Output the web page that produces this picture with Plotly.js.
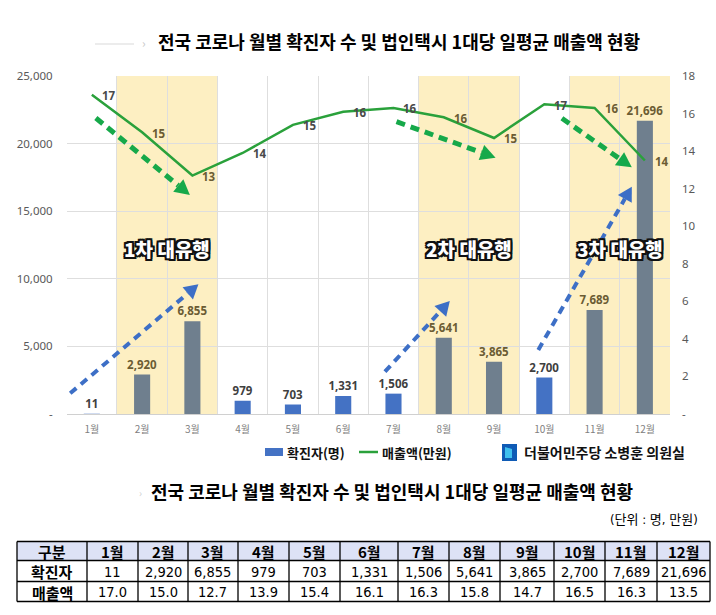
<!DOCTYPE html>
<html>
<head>
<meta charset="utf-8">
<script src="https://cdn.plot.ly/plotly-3.0.1.min.js"></script>
<style>
  html, body { margin: 0; padding: 0; background: #fff; }
  #chart { width: 716px; height: 615px; }
</style>
</head>
<body>
<div id="chart"></div>
<script>
// Monthly COVID-19 confirmed cases and average daily revenue per corporate taxi
const months = ['1월','2월','3월','4월','5월','6월','7월','8월','9월','10월','11월','12월'];
const cases = [11, 2920, 6855, 979, 703, 1331, 1506, 5641, 3865, 2700, 7689, 21696];
const revenue = [17.0, 15.0, 12.7, 13.9, 15.4, 16.1, 16.3, 15.8, 14.7, 16.5, 16.3, 13.5];
// month indices of the three outbreak waves
const waves = [[1, 2], [7, 8], [10, 11]];
const waveNames = ['1차 대유행', '2차 대유행', '3차 대유행'];
// trend arrows: [start month index, start value] -> [end month index, end value] (left axis units)
const revenueArrows = [[[0.08, 21893], [1.95, 16198]], [[6.06, 21620], [8.03, 18957]], [[9.35, 21871], [10.74, 18247]]];
const caseArrows = [[[-0.43, 1531], [2.12, 9593]], [[5.83, 3129], [7.12, 8358]], [[8.88, 4734], [10.74, 16812]]];

const leftTicks = [0, 5000, 10000, 15000, 20000, 25000];
const rightTicks = [0, 2, 4, 6, 8, 10, 12, 14, 16, 18];
const rowLabels = ['확진자', '매출액'];

const W = 716, H = 615;
const PL = 66.7, PR = 670, PT = 76, PB = 414;
const Y1MAX = 25000, Y2MAX = 18;

const BLUE = '#4472c4', SLATE = '#6f7f8e', GREEN = '#2aa13b';
const KR = '"Noto Sans CJK KR", "Noto Sans", sans-serif';
const NUM = '"Noto Sans", "Noto Sans CJK KR", sans-serif';
const NARROW = '"Liberation Sans Narrow", "DejaVu Sans Condensed", "Roboto Condensed", "Noto Sans CJK KR", sans-serif';

const inWave = i => waves.some(w => w.includes(i));
const fmt = v => v.toLocaleString('en-US');

// pixel helpers for decorations
const xPx = i => PL + (i + 0.5) * (PR - PL) / months.length;
const yPx = v => PB - v / Y1MAX * (PB - PT);
const px2p = (x, y) => [x / W, 1 - y / H];
const py = y => 1 - y / H;
const pxX = x => x / W;

const shapes = [];
const annotations = [];
function label(x, y, text, font, xanchor) {
  annotations.push({xref: 'paper', yref: 'paper', x: pxX(x), y: py(y), xanchor: xanchor || 'center',
    yanchor: 'middle', text: text, showarrow: false, font: font});
}

// shaded wave periods
waves.forEach(w => {
  shapes.push({type: 'rect', layer: 'below', xref: 'x', yref: 'paper',
    x0: w[0] - 0.5, x1: w[w.length - 1] + 0.5, y0: py(PB), y1: py(PT),
    fillcolor: '#fdefc2', line: {width: 0}});
});

// dashed trend arrows with triangular heads
function arrow(a, color, width, dash, headLen, headHalf) {
  const sx = xPx(a[0][0]), sy = yPx(a[0][1]);
  const tx = xPx(a[1][0]), ty = yPx(a[1][1]);
  const len = Math.hypot(tx - sx, ty - sy);
  const dx = (tx - sx) / len, dy = (ty - sy) / len;
  const bx = tx - dx * headLen, by = ty - dy * headLen;
  const s = px2p(sx, sy), b = px2p(bx, by);
  shapes.push({type: 'line', xref: 'paper', yref: 'paper', x0: s[0], y0: s[1], x1: b[0], y1: b[1],
    line: {color: color, width: width, dash: dash}});
  const p1 = px2p(tx, ty);
  const p2 = px2p(bx - dy * headHalf, by + dx * headHalf);
  const p3 = px2p(bx + dy * headHalf, by - dx * headHalf);
  shapes.push({type: 'path', xref: 'paper', yref: 'paper',
    path: `M${p1[0]},${p1[1]} L${p2[0]},${p2[1]} L${p3[0]},${p3[1]} Z`,
    fillcolor: color, line: {width: 0}});
}
revenueArrows.forEach(a => arrow(a, '#16a94a', 5, '9px,6px', 15, 8));
caseArrows.forEach(a => arrow(a, '#3d6fc6', 4, '8px,6px', 14, 8));

// revenue labels beside the line
revenue.forEach((v, i) => {
  annotations.push({xref: 'x', yref: 'y2', x: i, y: v, text: String(Math.round(v)),
    showarrow: false, xshift: 17, yshift: -1, yanchor: 'middle',
    font: {family: NUM, size: 11.5, color: inWave(i) ? '#6b5c33' : '#4a4a4a', weight: 'bold'}});
});

// wave captions
const outline = '-2px -2px 0 #111, 2px -2px 0 #111, -2px 2px 0 #111, 2px 2px 0 #111, 0 2px 0 #111, 2px 0 0 #111, 0 -2px 0 #111, -2px 0 0 #111';
waves.forEach((w, k) => {
  annotations.push({xref: 'x', yref: 'paper', x: (w[0] + w[w.length - 1]) / 2, y: py(248), yanchor: 'middle',
    text: waveNames[k], showarrow: false,
    font: {family: KR, size: 19, color: '#ffffff', weight: 900, shadow: outline}});
});

// headings
const heading = '전국 코로나 월별 확진자 수 및 법인택시 1대당 일평균 매출액 현황';
const headFont = {family: KR, size: 18, color: '#000', weight: 'bold'};
label(156, 41, heading, headFont, 'left');
label(144, 42, '›', {family: KR, size: 12, color: '#c8c8c8'});
shapes.push({type: 'line', xref: 'paper', yref: 'paper', x0: pxX(95), x1: pxX(134), y0: py(44), y1: py(44),
  line: {color: '#ececec', width: 2}});
label(149, 491, heading, headFont, 'left');
label(140, 492, '›', {family: KR, size: 10, color: '#cfcfcf'});
label(700, 519, '(단위 : 명, 만원)', {family: NARROW, size: 13, color: '#000'}, 'right');

// legend
shapes.push({type: 'rect', xref: 'paper', yref: 'paper', x0: pxX(265), x1: pxX(283), y0: py(456), y1: py(448),
  fillcolor: BLUE, line: {width: 0}});
label(285, 452, '확진자(명)', {family: KR, size: 13, color: '#111', weight: 'bold'}, 'left');
shapes.push({type: 'line', xref: 'paper', yref: 'paper', x0: pxX(359), x1: pxX(378), y0: py(452), y1: py(452),
  line: {color: GREEN, width: 2.5}});
label(380, 452, '매출액(만원)', {family: KR, size: 13, color: '#111', weight: 'bold'}, 'left');
// party office emblem
shapes.push({type: 'rect', xref: 'paper', yref: 'paper', x0: pxX(502), x1: pxX(517), y0: py(461), y1: py(444),
  fillcolor: '#0f5bb5', line: {width: 0}});
shapes.push({type: 'path', xref: 'paper', yref: 'paper',
  path: `M${pxX(505)},${py(447)} L${pxX(512)},${py(449)} L${pxX(512)},${py(458)} L${pxX(505)},${py(458)} Z`,
  fillcolor: '#3fc0ee', line: {width: 0}});
label(522, 452, '더불어민주당 소병훈 의원실', {family: KR, size: 14, color: '#111', weight: 'bold'}, 'left');

// summary table, drawn as a grid of lines and centred labels
const colEdges = [17, 87, 138, 188, 238, 289, 340, 398, 449, 500, 554, 605, 657, 710];
const rowEdges = [541.5, 560.5, 581.5, 601.5];
shapes.push({type: 'rect', xref: 'paper', yref: 'paper', x0: pxX(colEdges[0]), x1: pxX(colEdges[colEdges.length - 1]),
  y0: py(rowEdges[1]), y1: py(rowEdges[0]), fillcolor: '#dde2f6', line: {width: 0}, layer: 'below'});
rowEdges.forEach(y => shapes.push({type: 'line', xref: 'paper', yref: 'paper',
  x0: pxX(colEdges[0]), x1: pxX(colEdges[colEdges.length - 1]), y0: py(y), y1: py(y), line: {color: '#000', width: 1.3}}));
colEdges.forEach(x => shapes.push({type: 'line', xref: 'paper', yref: 'paper',
  x0: pxX(x), x1: pxX(x), y0: py(rowEdges[0]), y1: py(rowEdges[rowEdges.length - 1]), line: {color: '#000', width: 1.3}}));
const colMid = c => (colEdges[c] + colEdges[c + 1]) / 2;
const rowMid = r => (rowEdges[r] + rowEdges[r + 1]) / 2 + 0.5;
const tHead = {family: KR, size: 15, color: '#000', weight: 'bold'};
const tNum = {family: NARROW, size: 14.5, color: '#000'};
label(colMid(0), rowMid(0), '구분', tHead);
rowLabels.forEach((t, r) => label(colMid(0), rowMid(r + 1), t, tHead));
months.forEach((m, i) => {
  label(colMid(i + 1), rowMid(0), m, tHead);
  label(colMid(i + 1), rowMid(1), fmt(cases[i]), tNum);
  label(colMid(i + 1), rowMid(2), revenue[i].toFixed(1), tNum);
});

const barTrace = {
  type: 'bar', x: months, y: cases, yaxis: 'y', width: 0.32,
  marker: {color: months.map((m, i) => inWave(i) ? SLATE : BLUE)},
  text: cases.map(fmt), textposition: 'outside', cliponaxis: false, constraintext: 'none', textangle: 0,
  textfont: {family: NUM, size: 11.5, weight: 'bold', color: months.map((m, i) => inWave(i) ? '#6b5c33' : '#3f3f3f')},
  hoverinfo: 'x+y', showlegend: false
};
const lineTrace = {
  type: 'scatter', mode: 'lines', x: months, y: revenue, yaxis: 'y2', xaxis: 'x',
  line: {color: GREEN, width: 2.5}, showlegend: false
};

const layout = {
  width: W, height: H,
  margin: {l: 0, r: 0, t: 0, b: 0},
  paper_bgcolor: '#fff', plot_bgcolor: 'rgba(0,0,0,0)',
  showlegend: false,
  xaxis: {domain: [PL / W, PR / W], type: 'category', range: [-0.5, 11.5], tickson: 'boundaries',
    showgrid: true, gridcolor: '#dedede', gridwidth: 1, showline: true, linecolor: '#d0d0d0',
    ticks: '', ticklabelstandoff: 6, tickfont: {family: KR, size: 10, color: '#808080'}, fixedrange: true},
  yaxis: {domain: [py(PB), py(PT)], range: [0, Y1MAX], tickvals: leftTicks,
    ticktext: leftTicks.map(v => v === 0 ? '-' : fmt(v)), showgrid: true, gridcolor: '#dedede',
    zeroline: false, ticks: '', ticklabelstandoff: 13, tickfont: {family: NUM, size: 11.5, color: '#595959'}},
  yaxis2: {overlaying: 'y', side: 'right', anchor: 'x', range: [0, Y2MAX], tickvals: rightTicks,
    ticktext: rightTicks.map(v => v === 0 ? '-' : String(v)), showgrid: false, zeroline: false,
    ticks: '', ticklabelstandoff: 11, tickfont: {family: NUM, size: 11.5, color: '#595959'}},
  shapes: shapes,
  annotations: annotations
};

Plotly.newPlot('chart', [barTrace, lineTrace], layout, {displayModeBar: false, staticPlot: true});
</script>
</body>
</html>
